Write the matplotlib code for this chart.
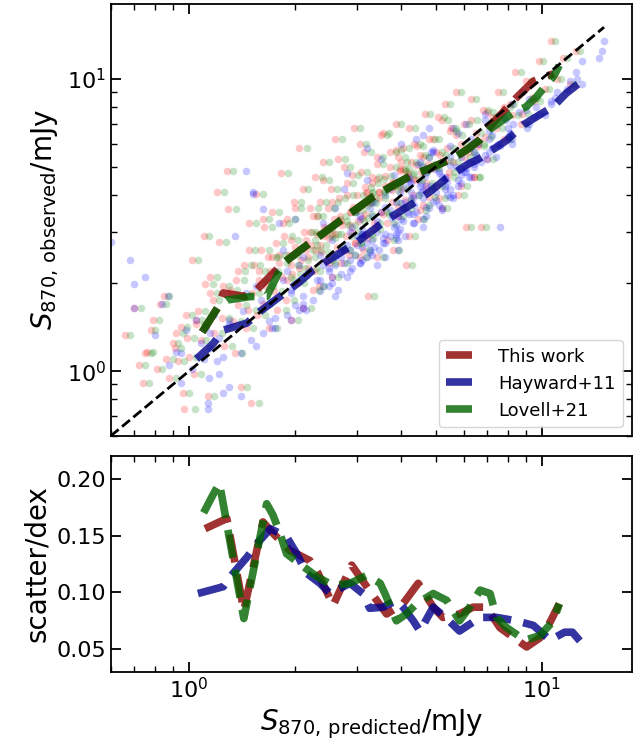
import numpy as np
import matplotlib.pyplot as plt

# ---------------- scatter data (observed vs predicted, mJy) ----------------
s_obs = [
    1.33, 1.64, 1.05, 0.91, 1.16, 1.38, 1.49, 1.02, 1.70, 1.81, 1.10, 0.95, 1.25, 1.20, 1.08, 1.42, 0.84, 0.74, 1.55, 1.30,
    1.12, 2.40, 0.98, 1.45, 1.60, 1.28, 2.90, 1.98, 0.82, 2.10, 1.75, 1.35, 4.09, 2.76, 1.52, 1.22, 4.82, 3.58, 1.90, 1.48,
    1.15, 2.05, 1.68, 0.88, 1.80, 2.30, 1.40, 1.62, 3.20, 0.78,
    1.85, 2.30, 4.02, 1.55, 2.05, 2.60, 1.70, 3.10, 1.95, 2.45, 1.40, 2.20, 3.50, 1.88, 2.75, 1.62, 2.35, 4.76, 2.10, 2.90,
    1.75, 3.30, 2.50, 1.50, 2.15, 3.80, 2.65, 2.00, 5.79, 2.40, 1.65, 3.00, 2.80, 2.25, 3.60,
    2.70, 3.40, 2.20, 4.60, 2.95, 1.95, 3.80, 2.55, 5.20, 3.10, 2.40, 3.60, 2.85, 4.20, 2.10, 3.30, 6.20, 2.65, 3.90, 2.35,
    3.15, 5.00, 2.90, 4.40, 2.50, 3.50, 3.00, 6.80, 2.75, 4.00, 3.25, 2.45, 4.80, 3.70, 2.60, 5.60, 3.45, 2.95, 4.10, 1.80,
    3.90, 4.60, 3.20, 5.40, 4.10, 3.50, 6.50, 4.30, 2.80, 5.00, 3.80, 4.45, 7.00, 3.40, 4.90, 4.20, 5.80, 3.60, 4.70, 2.90,
    5.20, 4.00, 6.00, 4.50, 3.30, 5.50, 4.80, 3.70, 7.60, 4.40, 5.10, 3.95, 2.45, 2.60, 2.30,
    5.00, 6.20, 4.30, 7.40, 5.50, 3.60, 8.20, 5.80, 4.80, 6.80, 5.20, 9.00, 4.00, 6.00, 7.00, 3.10, 5.60, 8.50, 4.60, 6.50,
    5.90, 3.10, 7.80, 6.30, 5.30,
    7.40, 9.00, 6.20, 8.20, 10.5, 7.00, 9.80, 8.60, 11.5, 9.20, 13.5, 10.0, 11.8, 9.60, 12.4,
    # denser middle of the cloud
    2.50, 3.20, 2.05, 2.80, 3.60, 2.25, 4.20, 2.60, 3.00, 1.90,
    3.40, 2.70, 4.50, 3.05, 2.35, 3.80, 2.95, 5.30, 3.25, 2.60,
    4.00, 3.15, 4.70, 2.75, 3.55, 6.00, 3.35, 4.25, 2.85, 3.75,
    4.40, 3.05, 5.10, 3.90, 6.40, 3.45, 4.65, 3.20, 5.60, 4.15,
    4.30, 5.70, 3.65, 4.85, 5.20, 3.85, 6.80, 4.55, 5.05, 3.55,
    5.40, 4.20, 6.20, 4.95, 5.60, 3.90, 7.20, 5.25, 4.60, 6.60,
    2.45, 2.90, 3.40, 3.65, 4.05, 4.55, 4.30, 5.40, 4.75, 5.90,
    2.20, 2.45, 2.30, 2.60, 2.95, 3.50, 3.80, 4.10, 4.40, 4.90,
    6.40, 5.40, 7.20, 6.00, 7.70, 6.80, 8.00, 7.50, 1.95, 2.20,
    1.50, 1.85, 1.35, 1.15, 3.30, 2.60, 4.30, 4.60, 7.60, 8.40,
]
s_pred_this = [
    0.66, 0.70, 0.72, 0.74, 0.76, 0.78, 0.79, 0.81, 0.83, 0.85, 0.86, 0.88, 0.90, 0.91, 0.93, 0.95, 0.96, 0.97, 0.98, 0.99,
    1.00, 1.02, 1.03, 1.05, 1.06, 1.08, 1.10, 1.11, 1.13, 1.15, 1.17, 1.18, 1.20, 1.22, 1.24, 1.26, 1.28, 1.29, 1.31, 1.33,
    1.35, 1.36, 1.38, 1.40, 1.42, 1.43, 1.45, 1.47, 1.48, 1.50,
    1.51, 1.53, 1.55, 1.56, 1.58, 1.60, 1.62, 1.63, 1.65, 1.67, 1.69, 1.70, 1.72, 1.74, 1.76, 1.78, 1.80, 1.82, 1.84, 1.86,
    1.88, 1.90, 1.92, 1.94, 1.96, 1.98, 2.00, 2.02, 2.05, 2.08, 2.10, 2.12, 2.15, 2.18, 2.20,
    2.22, 2.24, 2.26, 2.28, 2.30, 2.33, 2.35, 2.37, 2.40, 2.42, 2.44, 2.47, 2.50, 2.52, 2.55, 2.58, 2.60, 2.63, 2.66, 2.69,
    2.72, 2.75, 2.78, 2.81, 2.84, 2.87, 2.90, 2.93, 2.96, 2.99, 3.02, 3.05, 3.08, 3.10, 3.12, 3.14, 3.16, 3.18, 3.20, 3.21,
    3.25, 3.30, 3.35, 3.40, 3.45, 3.50, 3.55, 3.60, 3.65, 3.70, 3.75, 3.80, 3.85, 3.90, 3.95, 4.00, 4.05, 4.10, 4.15, 4.20,
    4.25, 4.30, 4.35, 4.40, 4.45, 4.50, 4.55, 4.60, 4.65, 4.70, 4.75, 4.80, 3.42, 3.78, 4.12,
    4.85, 4.92, 5.00, 5.08, 5.15, 5.22, 5.30, 5.38, 5.45, 5.52, 5.60, 5.70, 5.80, 5.90, 6.00, 6.10, 6.20, 6.30, 6.40, 6.50,
    6.60, 6.70, 6.80, 6.90, 7.00,
    7.20, 7.50, 7.80, 8.10, 8.40, 8.70, 9.00, 9.40, 9.80, 10.2, 10.6, 11.0, 11.5, 12.0, 12.5,
    1.80, 1.85, 1.90, 1.95, 2.00, 2.05, 2.10, 2.15, 2.20, 2.25,
    2.30, 2.35, 2.40, 2.45, 2.50, 2.55, 2.60, 2.65, 2.70, 2.75,
    2.80, 2.85, 2.90, 2.95, 3.00, 3.05, 3.10, 3.15, 3.20, 3.25,
    3.30, 3.35, 3.40, 3.45, 3.50, 3.55, 3.60, 3.65, 3.70, 3.75,
    3.80, 3.85, 3.90, 3.95, 4.00, 4.10, 4.20, 4.30, 4.40, 4.50,
    4.60, 4.70, 4.80, 4.90, 5.00, 5.10, 5.20, 5.30, 5.40, 5.50,
    2.18, 2.42, 2.68, 2.92, 3.18, 3.42, 3.68, 3.92, 4.18, 4.42,
    1.58, 1.72, 1.95, 2.28, 2.55, 2.85, 3.15, 3.45, 3.75, 4.05,
    5.70, 6.00, 6.30, 6.60, 7.00, 7.40, 7.80, 8.20, 1.25, 1.38,
    1.05, 1.15, 0.92, 0.75, 1.62, 1.48, 5.90, 6.40, 8.80, 9.50,
]
s_pred_hay = [
    0.80, 0.70, 0.88, 0.95, 0.92, 0.98, 1.05, 1.02, 0.84, 0.87, 1.10, 1.14, 1.08, 1.15, 1.20, 1.12, 1.25, 1.13, 1.18, 1.22,
    1.25, 0.68, 1.22, 1.30, 1.42, 1.50, 1.35, 0.70, 1.40, 0.75, 1.60, 1.62, 1.52, 0.60, 1.75, 1.55, 1.45, 1.62, 1.95, 1.68,
    1.40, 1.85, 2.00, 1.30, 2.10, 2.05, 1.72, 2.15, 1.80, 1.13,
    1.95, 2.60, 1.52, 1.90, 2.30, 2.85, 2.10, 2.90, 2.40, 2.70, 1.75, 2.50, 2.95, 2.35, 3.20, 2.05, 2.75, 2.80, 2.55, 3.10,
    2.25, 3.05, 2.95, 1.95, 2.70, 3.35, 3.10, 2.55, 3.20, 2.85, 2.10, 3.40, 3.30, 2.90, 3.25,
    3.00, 3.90, 2.85, 4.20, 3.60, 2.50, 4.10, 3.25, 4.50, 3.80, 3.10, 4.05, 3.55, 3.70, 2.80, 4.00, 4.40, 3.35, 4.30, 3.05,
    3.85, 4.60, 3.70, 4.25, 3.30, 4.15, 3.90, 4.80, 3.60, 4.45, 4.05, 3.20, 4.70, 4.35, 3.45, 4.90, 4.20, 3.85, 4.55, 2.60,
    4.60, 5.20, 4.30, 5.50, 5.00, 4.40, 5.80, 5.30, 3.90, 5.70, 4.90, 5.40, 6.10, 4.70, 5.90, 5.30, 6.30, 4.80, 5.90, 4.10,
    6.20, 5.40, 6.60, 5.80, 4.60, 6.50, 6.00, 5.10, 6.90, 5.90, 6.40, 5.50, 3.60, 3.90, 3.40,
    6.40, 7.10, 5.80, 7.80, 6.90, 5.20, 8.20, 7.20, 6.10, 8.00, 6.70, 8.80, 5.60, 7.50, 8.30, 4.60, 7.10, 9.20, 6.20, 8.10,
    7.60, 7.60, 9.00, 8.00, 7.00,
    9.50, 11.0, 8.20, 10.6, 12.5, 9.20, 12.0, 10.9, 13.0, 11.8, 15.0, 12.6, 14.5, 13.0, 14.8,
    2.35, 2.40, 2.35, 2.55, 2.60, 2.50, 2.75, 2.70, 2.85, 2.65,
    3.05, 2.80, 3.20, 3.10, 3.05, 3.30, 3.10, 3.50, 3.40, 3.25,
    3.60, 3.40, 3.80, 3.55, 3.70, 4.00, 3.75, 4.05, 3.85, 4.00,
    4.20, 3.95, 4.45, 4.25, 4.60, 4.30, 4.65, 4.35, 4.85, 4.60,
    4.85, 4.90, 4.70, 5.10, 5.20, 5.00, 5.60, 5.30, 5.50, 5.20,
    5.90, 5.50, 6.30, 6.10, 6.40, 5.60, 6.90, 6.50, 6.30, 7.10,
    2.60, 3.00, 3.30, 3.60, 3.95, 4.20, 4.50, 4.80, 5.10, 5.50,
    1.90, 2.10, 2.40, 2.75, 3.10, 3.50, 3.85, 4.25, 4.55, 4.95,
    7.20, 7.40, 7.90, 8.20, 8.60, 9.10, 9.60, 10.2, 1.55, 1.75,
    1.30, 1.45, 1.15, 0.95, 2.00, 1.85, 4.70, 5.30, 9.80, 10.6,
]
s_pred_lov = [
    0.68, 0.73, 0.75, 0.77, 0.79, 0.80, 0.82, 0.84, 0.86, 0.88, 0.90, 0.92, 0.93, 0.95, 0.97, 0.99, 1.00, 1.04, 1.02, 1.03,
    1.05, 1.06, 1.08, 1.10, 1.11, 1.12, 1.14, 1.17, 1.18, 1.20, 1.22, 1.24, 1.26, 1.27, 1.30, 1.32, 1.33, 1.36, 1.37, 1.40,
    1.41, 1.43, 1.45, 1.46, 1.49, 1.50, 1.52, 1.55, 1.55, 1.58,
    1.58, 1.59, 1.62, 1.64, 1.65, 1.68, 1.70, 1.72, 1.73, 1.76, 1.78, 1.79, 1.80, 1.83, 1.85, 1.88, 1.89, 1.91, 1.94, 1.96,
    1.98, 2.00, 2.02, 2.04, 2.06, 2.08, 2.11, 2.12, 2.16, 2.18, 2.21, 2.23, 2.27, 2.29, 2.32,
    2.31, 2.32, 2.35, 2.38, 2.40, 2.42, 2.44, 2.47, 2.50, 2.52, 2.54, 2.57, 2.60, 2.62, 2.65, 2.68, 2.71, 2.74, 2.77, 2.80,
    2.83, 2.86, 2.89, 2.92, 2.95, 2.98, 3.02, 3.05, 3.08, 3.11, 3.14, 3.17, 3.20, 3.22, 3.24, 3.27, 3.29, 3.31, 3.33, 3.34,
    3.38, 3.45, 3.48, 3.55, 3.58, 3.65, 3.68, 3.75, 3.80, 3.85, 3.90, 3.95, 4.00, 4.05, 4.10, 4.16, 4.20, 4.26, 4.30, 4.36,
    4.40, 4.47, 4.52, 4.57, 4.62, 4.67, 4.72, 4.78, 4.83, 4.88, 4.93, 4.98, 3.55, 3.93, 4.28,
    5.05, 5.10, 5.20, 5.28, 5.35, 5.40, 5.50, 5.58, 5.65, 5.72, 5.80, 5.90, 6.02, 6.10, 6.22, 6.30, 6.42, 6.52, 6.62, 6.72,
    6.85, 6.93, 7.05, 7.15, 7.25,
    7.40, 7.75, 8.10, 8.35, 8.70, 9.00, 9.30, 9.70, 10.1, 10.5, 10.9, 11.3, 11.8, 12.3, 12.8,
    1.87, 1.92, 1.98, 2.03, 2.08, 2.13, 2.18, 2.24, 2.29, 2.34,
    2.39, 2.44, 2.50, 2.55, 2.60, 2.65, 2.70, 2.76, 2.81, 2.86,
    2.91, 2.96, 3.02, 3.07, 3.12, 3.17, 3.22, 3.28, 3.33, 3.38,
    3.43, 3.48, 3.54, 3.59, 3.64, 3.69, 3.74, 3.80, 3.85, 3.90,
    3.95, 4.00, 4.06, 4.11, 4.16, 4.26, 4.37, 4.47, 4.58, 4.68,
    4.78, 4.89, 4.99, 5.10, 5.20, 5.30, 5.41, 5.51, 5.62, 5.72,
    2.27, 2.52, 2.79, 3.04, 3.31, 3.56, 3.83, 4.08, 4.35, 4.60,
    1.64, 1.79, 2.03, 2.37, 2.65, 2.96, 3.28, 3.59, 3.90, 4.21,
    5.93, 6.24, 6.55, 6.86, 7.28, 7.70, 8.11, 8.53, 1.30, 1.44,
    1.09, 1.20, 0.96, 0.78, 1.68, 1.54, 6.14, 6.66, 9.15, 9.88,
]

# ---------------- binned medians (top panel) ----------------
med_this_x = [1.09, 1.21, 1.25, 1.44, 1.55, 1.75, 1.85, 2.10, 2.51, 2.86, 3.33, 3.87, 4.31, 4.82, 5.61, 6.12, 6.68, 7.3, 8.46, 9.45, 10.8]
med_this_y = [1.36, 1.66, 1.85, 1.80, 1.89, 2.19, 2.34, 2.63, 3.08, 3.46, 3.95, 4.38, 4.69, 4.94, 5.35, 5.71, 6.2, 7.1, 8.6, 9.8, 10.4]
med_hay_x = [1.05, 1.17, 1.25, 1.46, 1.59, 1.81, 2.06, 2.25, 2.45, 2.98, 3.63, 4.32, 4.82, 5.37, 6.12, 6.68, 7.94, 8.85, 10.78, 11.7, 13.1]
med_hay_y = [1.10, 1.24, 1.38, 1.46, 1.60, 1.80, 2.02, 2.22, 2.37, 2.75, 3.29, 3.75, 4.11, 4.57, 5.07, 5.35, 6.15, 6.95, 8.04, 8.9, 9.9]
med_lov_x = [1.09, 1.21, 1.28, 1.50, 1.66, 1.77, 1.85, 2.10, 2.51, 2.86, 3.33, 3.87, 4.31, 4.82, 5.61, 6.12, 6.68, 7.1, 8.3, 9.0, 9.66, 10.8, 11.2]
med_lov_y = [1.36, 1.66, 1.75, 1.80, 1.80, 2.10, 2.34, 2.63, 3.08, 3.46, 3.95, 4.38, 4.69, 4.94, 5.35, 5.71, 6.18, 6.7, 7.65, 8.0, 8.68, 10.2, 11.1]

one_to_one = [0.6, 15.0]

# ---------------- scatter in dex (bottom panel) ----------------
sc_this_x = [1.11, 1.28, 1.43, 1.62, 1.73, 1.93, 2.20, 2.32, 2.56, 2.89, 3.19, 3.63, 4.04, 4.46, 4.92, 5.24, 5.84, 6.38, 6.96, 7.6, 9.05, 9.87, 10.55, 11.2]
sc_this_y = [0.156, 0.165, 0.084, 0.162, 0.152, 0.137, 0.128, 0.117, 0.0885, 0.124, 0.105, 0.081, 0.090, 0.108, 0.087, 0.078, 0.081, 0.087, 0.087, 0.069, 0.052, 0.060, 0.074, 0.090]
sc_hay_x = [1.06, 1.25, 1.31, 1.46, 1.56, 1.70, 1.89, 2.02, 2.15, 2.35, 2.51, 2.86, 3.11, 3.25, 3.55, 3.87, 4.04, 4.32, 4.51, 4.92, 5.37, 5.84, 6.68, 7.44, 8.46, 9.45, 10.55, 11.6, 12.2, 13.0]
sc_hay_y = [0.099, 0.105, 0.114, 0.131, 0.143, 0.156, 0.149, 0.134, 0.117, 0.108, 0.099, 0.108, 0.099, 0.086, 0.087, 0.093, 0.087, 0.075, 0.066, 0.087, 0.077, 0.066, 0.078, 0.078, 0.075, 0.071, 0.058, 0.065, 0.065, 0.055]
sc_lov_x = [1.10, 1.17, 1.22, 1.25, 1.43, 1.66, 1.73, 1.81, 1.89, 2.06, 2.30, 2.56, 2.86, 3.19, 3.48, 3.59, 3.87, 4.13, 4.41, 4.92, 5.37, 5.84, 6.24, 6.68, 7.13, 7.44, 7.94, 8.95, 9.87, 10.78, 11.2]
sc_lov_y = [0.170, 0.186, 0.196, 0.178, 0.077, 0.178, 0.168, 0.152, 0.134, 0.125, 0.114, 0.106, 0.108, 0.115, 0.108, 0.099, 0.075, 0.081, 0.090, 0.099, 0.093, 0.075, 0.087, 0.102, 0.099, 0.078, 0.069, 0.058, 0.062, 0.075, 0.090]

labels = ['This work', 'Hayward+11', 'Lovell+21']

fig = plt.figure(figsize=(6.41, 7.43), dpi=100)
ax1 = fig.add_axes([0.1727, 0.4132, 0.8133, 0.5814])
ax2 = fig.add_axes([0.1727, 0.0956, 0.8133, 0.2907], sharex=ax1)

# points
ax1.scatter(s_pred_this, s_obs, s=30, c='red', alpha=0.22, lw=0)
ax1.scatter(s_pred_hay, s_obs, s=30, c='blue', alpha=0.22, lw=0)
ax1.scatter(s_pred_lov, s_obs, s=30, c='green', alpha=0.22, lw=0)

lw = 5.5
ax1.plot(med_this_x, med_this_y, '--', color='darkred', lw=lw, alpha=0.8, label=labels[0])
ax1.plot(med_hay_x, med_hay_y, '--', color='darkblue', lw=lw, alpha=0.8, label=labels[1])
ax1.plot(med_lov_x, med_lov_y, '--', color='darkgreen', lw=lw, alpha=0.8, label=labels[2])
ax1.plot(one_to_one, one_to_one, 'k--', lw=2)

ax1.set_xscale('log')
ax1.set_yscale('log')
ax1.set_xlim(0.6, 18)
ax1.set_ylim(0.6, 18)
ax1.set_ylabel(r'$S_{\rm 870,\,observed}$/mJy', fontsize=20)
ax1.legend(loc='lower right', fontsize=13, handlelength=1.45, handletextpad=1.45)
ax1.tick_params(labelbottom=False)

ax2.plot(sc_this_x, sc_this_y, '--', color='darkred', lw=lw, alpha=0.8)
ax2.plot(sc_hay_x, sc_hay_y, '--', color='darkblue', lw=lw, alpha=0.8)
ax2.plot(sc_lov_x, sc_lov_y, '--', color='darkgreen', lw=lw, alpha=0.8)
ax2.set_ylim(0.03, 0.22)
ax2.set_yticks([0.05, 0.10, 0.15, 0.20])
ax2.set_xlabel(r'$S_{\rm 870,\,predicted}$/mJy', fontsize=20)
ax2.set_ylabel('scatter/dex', fontsize=20)

for ax in (ax1, ax2):
    ax.tick_params(which='both', direction='in', top=True, right=True, labelsize=16)
    ax.tick_params(which='major', length=7, width=1.3)
    ax.tick_params(which='minor', length=4, width=1.0)
    for sp in ax.spines.values():
        sp.set_linewidth(1.3)

fig.savefig('out.png', dpi=100)
